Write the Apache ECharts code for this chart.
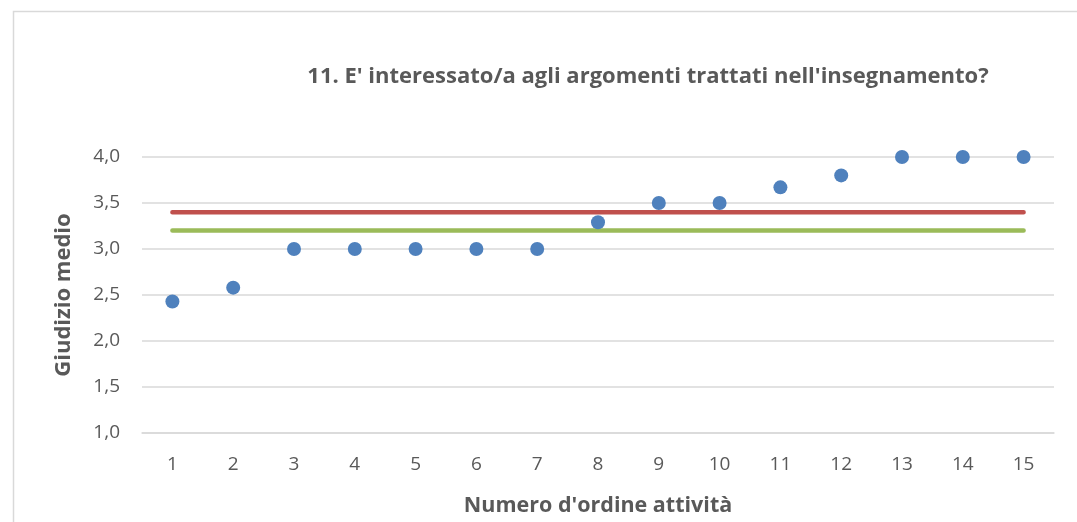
<!DOCTYPE html>
<html><head><meta charset="utf-8">
<script src="https://cdn.jsdelivr.net/npm/echarts@6/dist/echarts.min.js"></script>
<style>html,body{margin:0;padding:0;background:#fff}#c{width:1077px;height:522px}</style>
</head><body><div id="c"></div>
<script>
const categories = ['1','2','3','4','5','6','7','8','9','10','11','12','13','14','15'];
const giudizio = [2.43, 2.58, 3.0, 3.0, 3.0, 3.0, 3.0, 3.29, 3.5, 3.5, 3.67, 3.8, 4.0, 4.0, 4.0];
const mediaRossa = [3.4,3.4,3.4,3.4,3.4,3.4,3.4,3.4,3.4,3.4,3.4,3.4,3.4,3.4,3.4];
const mediaVerde = [3.2,3.2,3.2,3.2,3.2,3.2,3.2,3.2,3.2,3.2,3.2,3.2,3.2,3.2,3.2];
const titleText = "11. E' interessato/a agli argomenti trattati nell'insegnamento?";
const font = "'Open Sans', sans-serif";
const chart = echarts.init(document.getElementById('c'), null, {renderer:'canvas'});
chart.setOption({
  animation:false,
  backgroundColor:'#fff',
  graphic:[{type:'rect',shape:{x:13.5,y:11.5,width:1100,height:600},style:{fill:'none',stroke:'#D9D9D9',lineWidth:1.5},silent:true}],
  title:{text:titleText,left:643,top:61,textAlign:'center',textStyle:{fontFamily:font,fontWeight:'bold',fontSize:22,color:'#595959'}},
  grid:{left:142,right:23,top:157,bottom:89,containLabel:false},
  xAxis:{type:'category',data:categories,boundaryGap:true,
    name:"Numero d'ordine attività",nameLocation:'middle',nameGap:62,
    nameTextStyle:{fontFamily:font,fontWeight:'bold',fontSize:21.5,color:'#595959'},
    axisLine:{show:true,lineStyle:{color:'#D9D9D9',width:1.5}},axisTick:{show:false},
    axisLabel:{fontFamily:font,fontSize:19,color:'#595959',margin:22},splitLine:{show:false}},
  yAxis:{type:'value',min:1,max:4,interval:0.5,
    name:'Giudizio medio',nameLocation:'middle',nameGap:67,nameRotate:90,
    nameTextStyle:{fontFamily:font,fontWeight:'bold',fontSize:22,color:'#595959'},
    axisLine:{show:false},axisTick:{show:false},
    axisLabel:{fontFamily:font,fontSize:19,color:'#595959',margin:22,formatter:v=>v.toFixed(1).replace('.',',')},
    splitLine:{lineStyle:{color:'#D9D9D9',width:1.5}}},
  series:[
    {type:'line',data:mediaRossa,symbol:'none',lineStyle:{color:'#C0504D',width:4.5,cap:'round'},z:2},
    {type:'line',data:mediaVerde,symbol:'none',lineStyle:{color:'#9BBB59',width:4.5,cap:'round'},z:2},
    {type:'scatter',data:giudizio,symbol:'circle',symbolSize:14,itemStyle:{color:'#4F81BD',opacity:1},z:3}
  ]
});
</script></body></html>
